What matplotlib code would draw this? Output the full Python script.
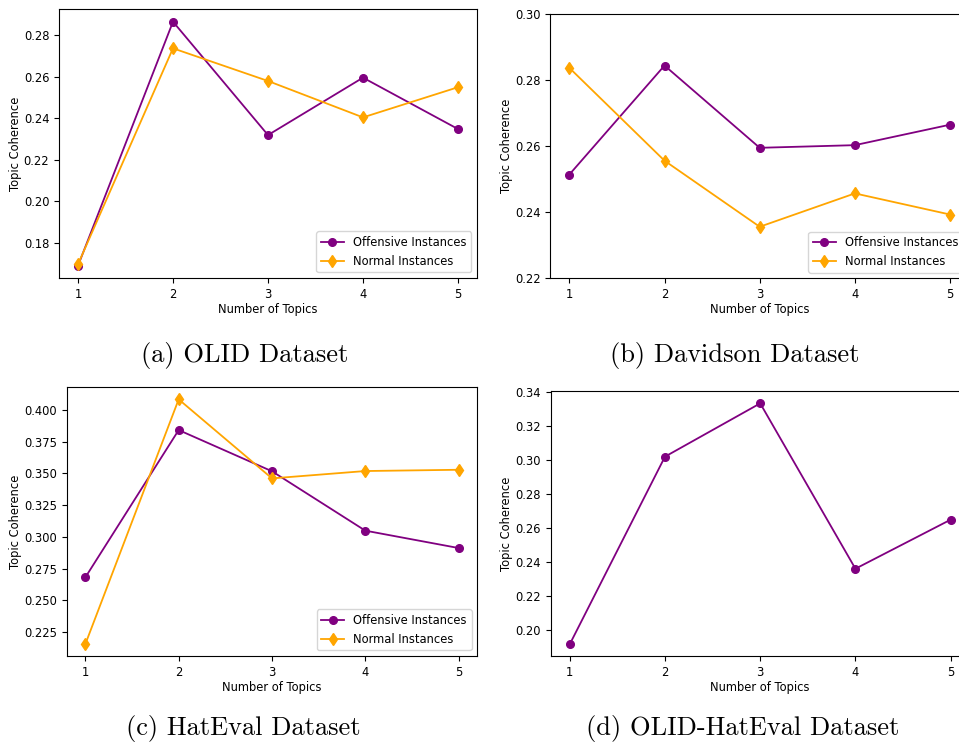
import matplotlib
matplotlib.use('Agg')
import matplotlib.pyplot as plt

topics = [1, 2, 3, 4, 5]

olid_off = [0.1691, 0.2864, 0.2319, 0.2595, 0.2348]
olid_norm = [0.1698, 0.2736, 0.2579, 0.2404, 0.2549]

dav_off = [0.2514, 0.2844, 0.2595, 0.2603, 0.2665]
dav_norm = [0.2837, 0.2556, 0.2356, 0.2457, 0.2393]

hat_off = [0.2681, 0.3842, 0.3517, 0.3049, 0.2912]
hat_norm = [0.2155, 0.4084, 0.3461, 0.3519, 0.3529]

oh_off = [0.1916, 0.3021, 0.3335, 0.2361, 0.2650]

captions = ['(a) OLID Dataset', '(b) Davidson Dataset',
            '(c) HatEval Dataset', '(d) OLID-HatEval Dataset']

PURPLE = 'purple'
ORANGE = 'orange'

plt.rcParams['font.size'] = 8.3
plt.rcParams['axes.linewidth'] = 0.8

fig = plt.figure(figsize=(9.59, 7.47), dpi=100)

W, H = 959, 747
def box(l, t, w, h):
	return [l / W, 1 - (t + h) / H, w / W, h / H]

ax_a = fig.add_axes(box(59, 9, 418, 269))
ax_b = fig.add_axes(box(550.3, 14, 418.8, 264.3))
ax_c = fig.add_axes(box(66.7, 387.3, 410.6, 268.7))
ax_d = fig.add_axes(box(550.7, 391.3, 419, 264.7))

def draw(ax, off, norm, ylim, yticks, fmt):
	ax.plot(topics, off, 'o-', color=PURPLE, lw=1.3, ms=5.5, label='Offensive Instances')
	if norm is not None:
		ax.plot(topics, norm, 'd-', color=ORANGE, lw=1.3, ms=6, label='Normal Instances')
		ax.legend(loc='lower right', fontsize=8.3)
	ax.set_xlim(0.8, 5.2)
	ax.set_ylim(*ylim)
	ax.set_xticks(topics)
	ax.set_yticks(yticks)
	ax.set_yticklabels([fmt % v for v in yticks])
	ax.set_xlabel('Number of Topics', labelpad=1.5)
	ax.set_ylabel('Topic Coherence', labelpad=1.5)

draw(ax_a, olid_off, olid_norm, (0.1632, 0.2925), [0.18, 0.20, 0.22, 0.24, 0.26, 0.28], '%.2f')
draw(ax_b, dav_off, dav_norm, (0.22, 0.30), [0.22, 0.24, 0.26, 0.28, 0.30], '%.2f')
draw(ax_c, hat_off, hat_norm, (0.2061, 0.4179),
	[0.225, 0.250, 0.275, 0.300, 0.325, 0.350, 0.375, 0.400], '%.3f')
draw(ax_d, oh_off, None, (0.1847, 0.3406),
	[0.20, 0.22, 0.24, 0.26, 0.28, 0.30, 0.32, 0.34], '%.2f')

cap_pos = [(245, 356), (735, 356), (243, 729), (743, 729)]
for (cx, cy), text in zip(cap_pos, captions):
	fig.text(cx / W, 1 - cy / H, text, ha='center', va='center',
		family='cmr10', fontsize=19)

fig.savefig('out.png', dpi=100)
